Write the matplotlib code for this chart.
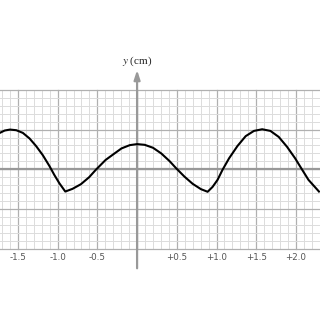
import matplotlib
matplotlib.use("Agg")
import matplotlib.pyplot as plt

plt.rcParams["mathtext.fontset"] = "stix"

# curve (x along the axis, y in cm)
wave_x = [-1.729, -1.667, -1.600, -1.521, -1.438, -1.354, -1.271, -1.188,
          -1.104, -1.042, -0.979, -0.904, -0.813, -0.708, -0.604, -0.521,
          -0.396, -0.300, -0.196, -0.092, 0.000, 0.096, 0.200, 0.304,
          0.408, 0.492, 0.596, 0.700, 0.804, 0.888, 0.950, 1.013,
          1.075, 1.158, 1.263, 1.367, 1.471, 1.575, 1.679, 1.783,
          1.888, 1.990, 2.075, 2.158, 2.290]
wave_y = [0.458, 0.488, 0.500, 0.492, 0.458, 0.388, 0.292, 0.179,
          0.042, -0.071, -0.175, -0.280, -0.246, -0.188, -0.100, -0.008,
          0.118, 0.188, 0.263, 0.304, 0.317, 0.308, 0.271, 0.200,
          0.104, 0.013, -0.092, -0.183, -0.250, -0.283, -0.222, -0.133,
          -0.008, 0.138, 0.292, 0.417, 0.483, 0.504, 0.483, 0.408,
          0.283, 0.138, 0.000, -0.133, -0.280]

tick_vals = [-1.5, -1.0, -0.5, 0.5, 1.0, 1.5, 2.0]
tick_text = ["-1.5", "-1.0", "-0.5", "+0.5", "+1.0", "+1.5", "+2.0"]

x_lo, x_hi = -1.726, 2.303
y_lo, y_hi = -1.897, 2.131

fig = plt.figure(figsize=(3.2, 3.2), dpi=100)
ax = fig.add_axes([0, 0, 1, 1])
ax.set_xlim(x_lo, x_hi)
ax.set_ylim(y_lo, y_hi)
ax.axis("off")

# grid paper
for i in range(-18, 24):
    xv = i / 10
    major = i % 5 == 0
    ax.plot([xv, xv], [-1.0, 1.0], color="#b0b0b0" if major else "#dcdcdc",
            lw=0.9 if major else 0.7, zorder=1)
for j in range(-10, 11):
    yv = j / 10
    major = j % 5 == 0
    ax.plot([x_lo, x_hi], [yv, yv], color="#b0b0b0" if major else "#dcdcdc",
            lw=0.9 if major else 0.7, zorder=1)

# axes
ax.plot([x_lo, x_hi], [0, 0], color="#999999", lw=1.6, zorder=2)
ax.annotate("", xy=(0, 1.25), xytext=(0, -1.246),
            arrowprops=dict(arrowstyle="-|>,head_length=0.55,head_width=0.18",
                            color="#999999", lw=1.6, shrinkA=0, shrinkB=0),
            zorder=2)
ax.text(0, 1.36, "$\\mathit{y}$ (cm)", ha="center", va="center", fontsize=8,
        family="Liberation Serif", color="#222222")

for v, t in zip(tick_vals, tick_text):
    ax.text(v, -1.104, t, ha="center", va="center", fontsize=6.3,
            color="#555555")

ax.plot(wave_x, wave_y, color="black", lw=1.5, zorder=3,
        solid_joinstyle="round")

fig.savefig("out.png", dpi=100)
